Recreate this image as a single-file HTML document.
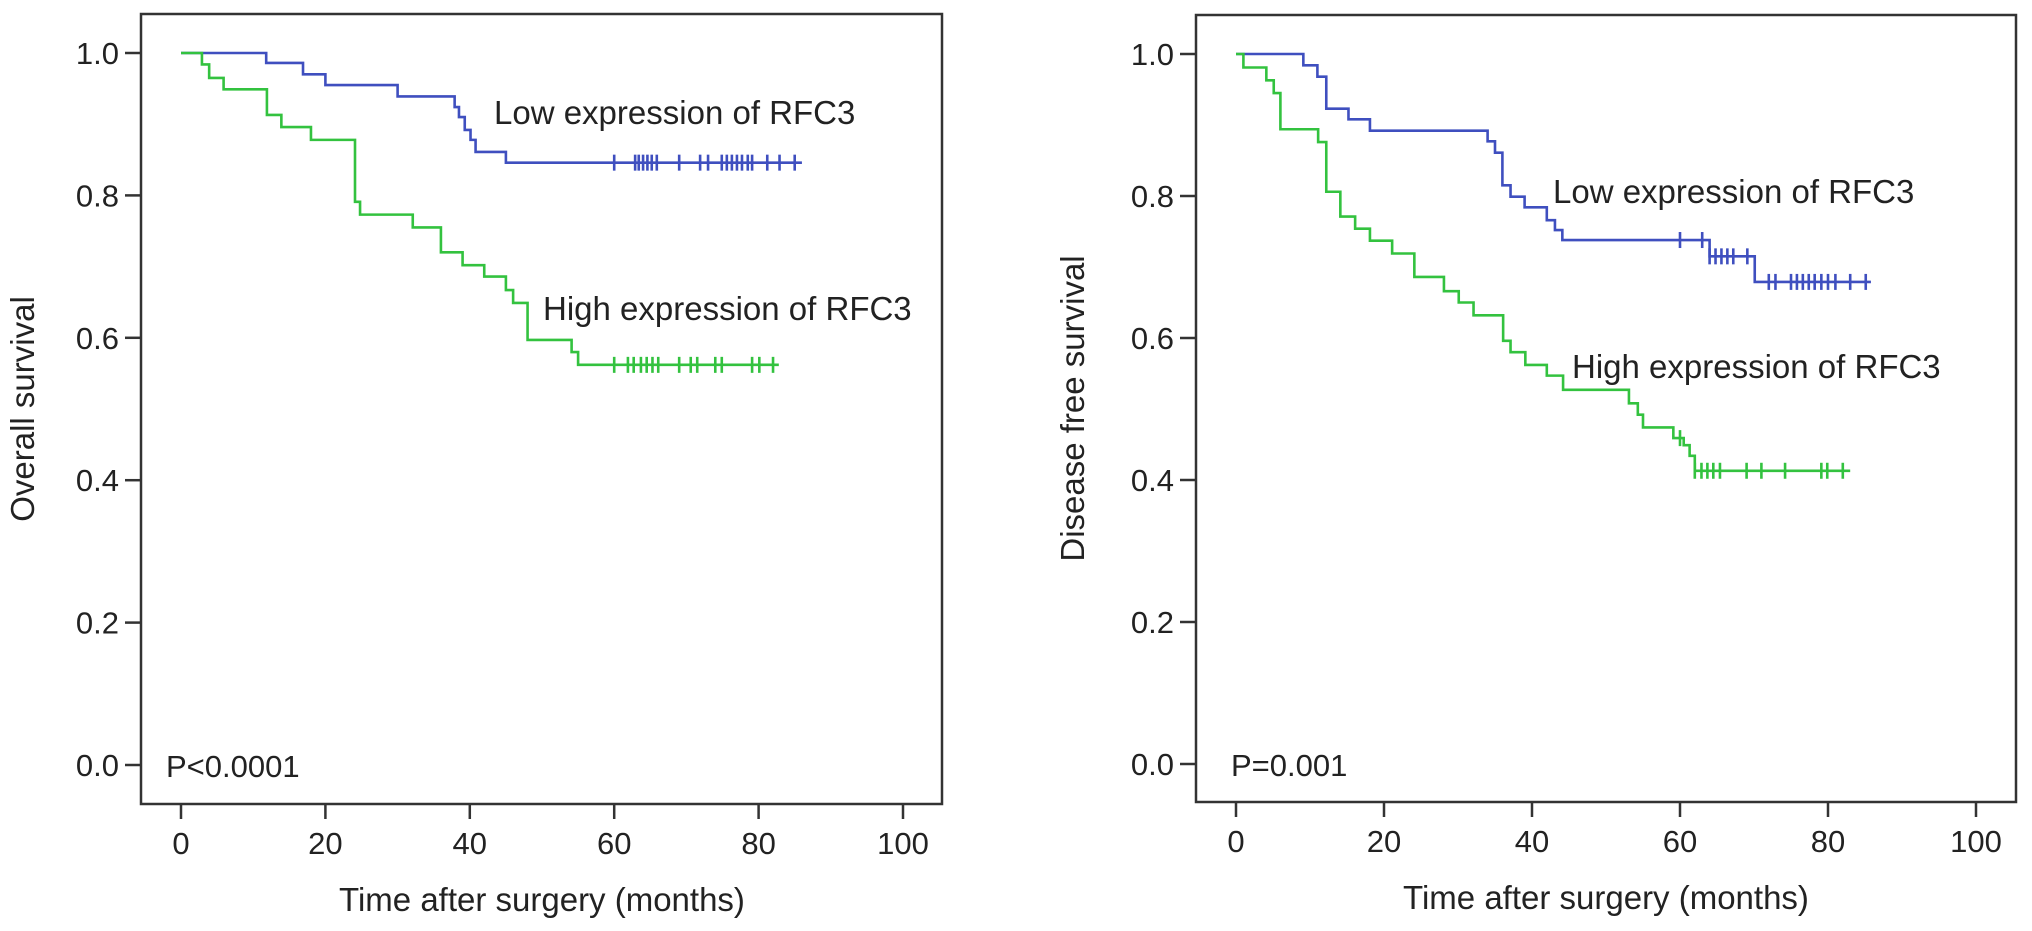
<!DOCTYPE html>
<html><head><meta charset="utf-8"><style>
html,body{margin:0;padding:0;background:#fff;}
svg{display:block;}
text{font-family:"Liberation Sans",Arial,sans-serif;fill:#222;}
</style></head><body>
<svg id="c" width="2032" height="931" viewBox="0 0 2032 931" xmlns="http://www.w3.org/2000/svg"></svg>
<script>
// ---- Data: Overall survival (left panel) ----
const osLowT = [0, 11.8, 16.9, 20.0, 30.0, 37.9, 38.5, 39.3, 40.1, 40.8, 45.0, 48.0];
const osLowS = [1.0, 0.986, 0.970, 0.955, 0.939, 0.924, 0.910, 0.892, 0.878, 0.861, 0.846, 0.846];
const osLowCensor = [60.0, 62.9, 63.4, 64.0, 64.6, 65.2, 65.9, 69.0, 71.9, 73.0, 74.9, 75.6, 76.3, 77.0, 77.7, 78.5, 79.1, 81.2, 82.9, 85.0];
const osLowEnd = 86.0;
const osHighT = [0, 2.9, 3.9, 5.9, 11.9, 13.9, 18.0, 24.1, 24.8, 32.1, 36.0, 39.0, 42.0, 45.0, 46.0, 48.0, 54.1, 55.0];
const osHighS = [1.0, 0.984, 0.965, 0.949, 0.913, 0.896, 0.878, 0.791, 0.773, 0.755, 0.720, 0.702, 0.686, 0.667, 0.649, 0.597, 0.580, 0.562];
const osHighCensor = [60.0, 61.9, 62.7, 63.7, 64.5, 65.3, 66.1, 69.0, 70.6, 71.5, 74.0, 74.9, 79.1, 80.1, 82.0];
const osHighEnd = 82.8;
// ---- Data: Disease free survival (right panel) ----
const dfsLowT = [0, 9.1, 11.0, 12.2, 15.2, 18.1, 34.0, 35.0, 36.0, 37.1, 39.0, 42.0, 43.1, 44.1, 64.0, 70.1];
const dfsLowS = [1.0, 0.984, 0.968, 0.923, 0.908, 0.892, 0.877, 0.861, 0.815, 0.799, 0.784, 0.766, 0.752, 0.738, 0.715, 0.679];
const dfsLowCensor = [60.0, 63.0, 64.0, 64.8, 65.6, 66.4, 67.2, 69.1, 72.0, 72.9, 75.0, 75.8, 76.6, 77.4, 78.2, 79.1, 80.0, 81.0, 83.0, 85.1];
const dfsLowEnd = 85.8;
const dfsHighT = [0, 1.0, 4.1, 5.1, 6.0, 11.1, 12.2, 14.1, 16.1, 18.1, 21.1, 24.1, 28.1, 30.1, 32.1, 36.1, 37.1, 39.1, 42.0, 44.2, 53.1, 54.3, 55.0, 59.1, 60.5, 61.3, 62.0];
const dfsHighS = [1.0, 0.981, 0.963, 0.945, 0.894, 0.876, 0.806, 0.771, 0.754, 0.737, 0.719, 0.686, 0.666, 0.650, 0.632, 0.596, 0.580, 0.562, 0.547, 0.527, 0.508, 0.492, 0.474, 0.459, 0.449, 0.434, 0.413];
const dfsHighCensor = [60.0, 62.0, 62.9, 63.7, 64.5, 65.4, 69.0, 71.0, 74.2, 79.1, 79.9, 82.0];
const dfsHighEnd = 83.0;
const xTicks = [0, 20, 40, 60, 80, 100];
const yTicks = [0.0, 0.2, 0.4, 0.6, 0.8, 1.0];

const NS = "http://www.w3.org/2000/svg";
const svg = document.getElementById('c');
function mk(tag, attrs, parent) {
  const e = document.createElementNS(NS, tag);
  for (const k in attrs) e.setAttribute(k, attrs[k]);
  (parent || svg).appendChild(e);
  return e;
}
const BLUE = "#3f4fbf", GREEN = "#33c23f";

function panel(p) {
  const g = mk('g', {});
  
  
  const xs = v => p.x0 + (p.x100 - p.x0) * v / 100;
  const ys = v => p.y0 + (p.y1 - p.y0) * v;
  const box = mk('rect', {x: p.bl, y: p.bt, width: p.br - p.bl, height: p.bb - p.bt, fill: 'none', stroke: '#333', 'stroke-width': 2.5}, g);
  
  
  xTicks.forEach(t => {
    const l = mk('line', {x1: xs(t), x2: xs(t), y1: p.bb, y2: p.bb + 15, stroke: '#333', 'stroke-width': 2.5}, g);
    
    
    const tx = mk('text', {x: xs(t), y: p.bb + 50, 'font-size': 31, 'text-anchor': 'middle'}, g);
    tx.textContent = t;
    
    
  });
  yTicks.forEach(t => {
    const l = mk('line', {x1: p.bl - 16, x2: p.bl, y1: ys(t), y2: ys(t), stroke: '#333', 'stroke-width': 2.5}, g);
    
    
    const tx = mk('text', {x: p.bl - 22, y: ys(t) + 11, 'font-size': 31, 'text-anchor': 'end'}, g);
    tx.textContent = t.toFixed(1);
    
    
  });
  const xt = mk('text', {x: (xs(0) + xs(100)) / 2, y: p.bb + 107, 'font-size': 33, 'text-anchor': 'middle'}, g);
  xt.textContent = 'Time after surgery (months)';
  
  
  const cy = (p.bt + p.bb) / 2;
  const yt = mk('text', {x: p.ytx, y: cy, 'font-size': 33, 'text-anchor': 'middle', transform: `rotate(-90 ${p.ytx} ${cy})`}, g);
  yt.textContent = p.ytitle;
  
  
  const pv = mk('text', {x: p.px, y: ys(0) + 12, 'font-size': 31}, g);
  pv.textContent = p.ptext;
  
  

  p.series.forEach(s => {
    let d = `M${xs(s.t[0])},${ys(s.s[0])}`;
    for (let i = 1; i < s.t.length; i++) {
      d += ` H${xs(s.t[i])} V${ys(s.s[i])}`;
    }
    d += ` H${xs(s.end)}`;
    const path = mk('path', {d: d, fill: 'none', stroke: s.color, 'stroke-width': 2.6}, g);
    
    
    s.c.forEach(ct => {
      let sv = s.s[0];
      for (let i = 0; i < s.t.length; i++) if (s.t[i] <= ct) sv = s.s[i];
      const m = mk('line', {x1: xs(ct), x2: xs(ct), y1: ys(sv) - 8, y2: ys(sv) + 8, stroke: s.color, 'stroke-width': 2.6}, g);
      
      
    });
    const lb = mk('text', {x: s.lx, y: s.ly, 'font-size': 33}, g);
    lb.textContent = s.label;
    
    
  });
}

panel({name: 'overall-survival-panel', bl: 141, br: 942, bt: 14, bb: 804, x0: 181, x100: 903, y0: 765, y1: 53,
  ytitle: 'Overall survival', ytx: 34, ptext: 'P<0.0001', px: 166,
  series: [
    {name: 'low-expression', t: osLowT, s: osLowS, c: osLowCensor, end: osLowEnd, color: BLUE, label: 'Low expression of RFC3', lx: 494, ly: 124},
    {name: 'high-expression', t: osHighT, s: osHighS, c: osHighCensor, end: osHighEnd, color: GREEN, label: 'High expression of RFC3', lx: 543, ly: 320}
  ]});
panel({name: 'disease-free-survival-panel', bl: 1196, br: 2016, bt: 15, bb: 802, x0: 1236, x100: 1976, y0: 764, y1: 54,
  ytitle: 'Disease free survival', ytx: 1084, ptext: 'P=0.001', px: 1231,
  series: [
    {name: 'low-expression', t: dfsLowT, s: dfsLowS, c: dfsLowCensor, end: dfsLowEnd, color: BLUE, label: 'Low expression of RFC3', lx: 1553, ly: 203},
    {name: 'high-expression', t: dfsHighT, s: dfsHighS, c: dfsHighCensor, end: dfsHighEnd, color: GREEN, label: 'High expression of RFC3', lx: 1572, ly: 378}
  ]});
</script>
</body></html>
